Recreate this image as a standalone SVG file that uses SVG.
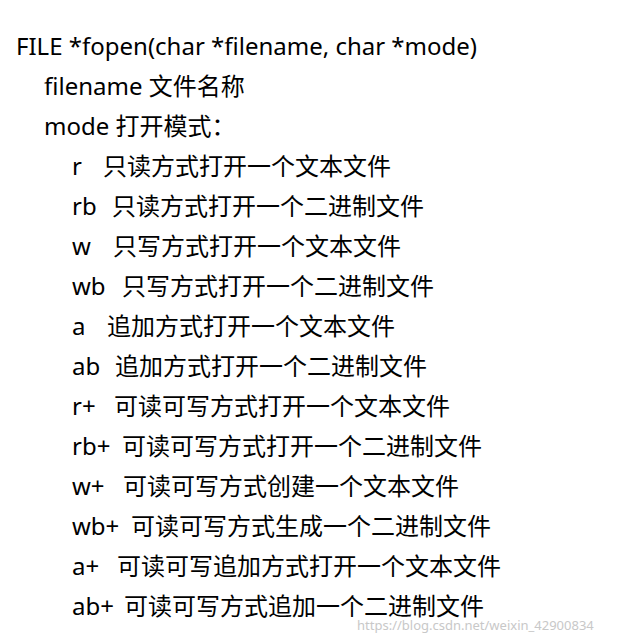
<svg xmlns="http://www.w3.org/2000/svg" width="636" height="641" viewBox="0 0 636 641">
<style>
text{font-family:"Noto Sans","Noto Sans CJK SC",sans-serif;font-size:24px;fill:#000}
.wm{font-size:13px;fill:#c8c8c8}
</style>
<rect width="636" height="641" fill="#fff"/>
<text x="16" y="55">FILE *fopen(char *filename, char *mode)</text>
<text x="44" y="95">filename 文件名称</text>
<text x="44" y="135">mode 打开模式：</text>
<g>
<text x="72" y="175">r</text><text x="103" y="175">只读方式打开一个文本文件</text>
<text x="72" y="215">rb</text><text x="112" y="215">只读方式打开一个二进制文件</text>
<text x="72" y="255">w</text><text x="113" y="255">只写方式打开一个文本文件</text>
<text x="72" y="295">wb</text><text x="122" y="295">只写方式打开一个二进制文件</text>
<text x="72" y="335">a</text><text x="107" y="335">追加方式打开一个文本文件</text>
<text x="72" y="375">ab</text><text x="115" y="375">追加方式打开一个二进制文件</text>
<text x="72" y="415">r+</text><text x="114" y="415">可读可写方式打开一个文本文件</text>
<text x="72" y="455">rb+</text><text x="122" y="455">可读可写方式打开一个二进制文件</text>
<text x="72" y="495">w+</text><text x="123" y="495">可读可写方式创建一个文本文件</text>
<text x="72" y="535">wb+</text><text x="131" y="535">可读可写方式生成一个二进制文件</text>
<text x="72" y="575">a+</text><text x="117" y="575">可读可写追加方式打开一个文本文件</text>
<text x="72" y="615">ab+</text><text x="124" y="615">可读可写方式追加一个二进制文件</text>
</g>
<text class="wm" x="357" y="630">https://blog.csdn.net/weixin_42900834</text>
</svg>
